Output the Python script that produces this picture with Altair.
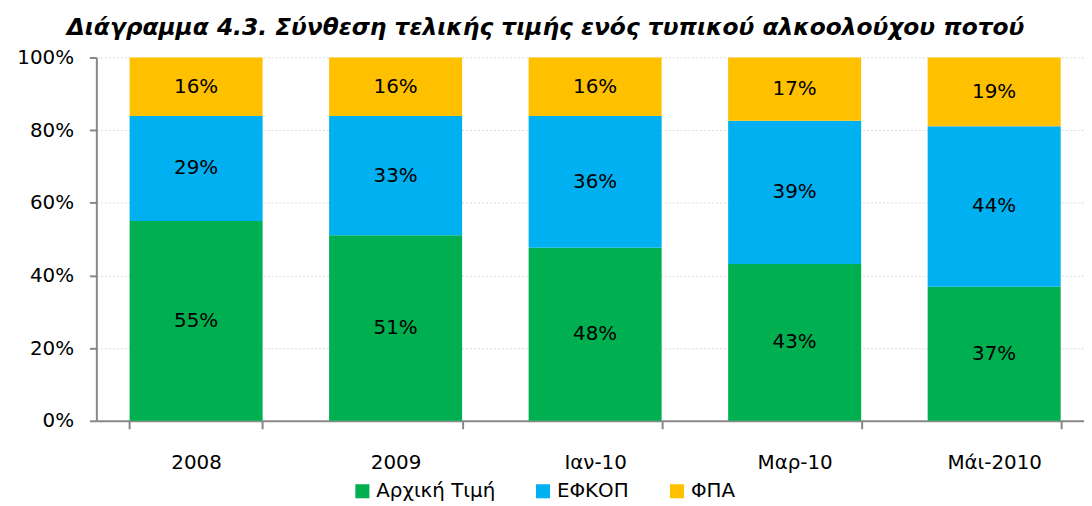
import altair as alt
import pandas as pd

categories = ["2008", "2009", "Ιαν-10", "Μαρ-10", "Μάι-2010"]
series = ["Αρχική Τιμή", "ΕΦΚΟΠ", "ΦΠΑ"]
arxiki = [55.0, 51.1, 47.6, 43.1, 36.9]
efkop = [28.9, 32.8, 36.3, 39.4, 44.2]
fpa = [16.1, 16.1, 16.1, 17.4, 18.9]
colors = ["#00B050", "#00B0F0", "#FFC000"]

rows = []
for i, c in enumerate(categories):
    for j, (s, vals) in enumerate(zip(series, [arxiki, efkop, fpa])):
        rows.append({"cat": c, "series": s, "value": vals[i], "ord": j})
df = pd.DataFrame(rows)

FONT = "DejaVu Sans"

base = alt.Chart(df).transform_stack(
    stack="value", groupby=["cat"], as_=["y0", "y1"],
    sort=[alt.SortField("ord", order="ascending")], offset="normalize"
).transform_calculate(mid="(datum.y0 + datum.y1) / 2")

x = alt.X("cat:N", sort=categories, title=None,
          scale=alt.Scale(paddingInner=1/3, paddingOuter=1/6, range=[0, 1005]),
          axis=alt.Axis(labelAngle=0, labelFontSize=20, labelFont=FONT, labelColor="black",
                        labelPadding=24, tickBand="extent", tickSize=8, tickColor="#888888",
                        domainColor="#888888", domainWidth=2, tickWidth=2, grid=False))

bars = base.mark_bar().encode(
    x=x,
    y=alt.Y("y0:Q", title=None, scale=alt.Scale(domain=[0, 1]),
            axis=alt.Axis(format=".0%", values=[0, 0.2, 0.4, 0.6, 0.8, 1.0], labelFontSize=20,
                          labelFont=FONT, labelColor="black", tickSize=7, tickColor="#888888",
                          domainColor="#888888", domainWidth=2, tickWidth=2, labelPadding=16,
                          gridColor="#D9D9D9", gridDash=[2, 2], gridWidth=1)),
    y2="y1:Q",
    color=alt.Color("series:N", sort=series,
                    scale=alt.Scale(domain=series, range=colors),
                    legend=alt.Legend(title=None, orient="none", direction="horizontal",
                                      legendX=258, legendY=427,
                                      symbolType="square", symbolSize=200, symbolStrokeWidth=0,
                                      labelFontSize=20, labelFont=FONT, labelColor="black",
                                      columnPadding=38, symbolOffset=0)),
)

labels = base.mark_text(fontSize=20, font=FONT, color="black", baseline="middle").encode(
    x=alt.X("cat:N", sort=categories),
    y=alt.Y("mid:Q"),
    text=alt.Text("label:N"),
).transform_calculate(label="format(datum.value, '.0f') + '%'")

chart = alt.layer(bars, labels).properties(
    width=995, height=366,
    autosize=alt.AutoSizeParams(type="none"),
    padding={"left": 89, "right": 0, "top": 48, "bottom": 84},
    title=alt.TitleParams("Διάγραμμα 4.3. Σύνθεση τελικής τιμής ενός τυπικού αλκοολούχου ποτού",
                          font="DejaVu Sans", fontSize=23.5, fontWeight="bold", fontStyle="italic",
                          color="black", anchor="middle", offset=8, dx=-45),
).configure_view(stroke=None)

chart.save("out.html", embed_options={"renderer": "svg", "actions": False})
